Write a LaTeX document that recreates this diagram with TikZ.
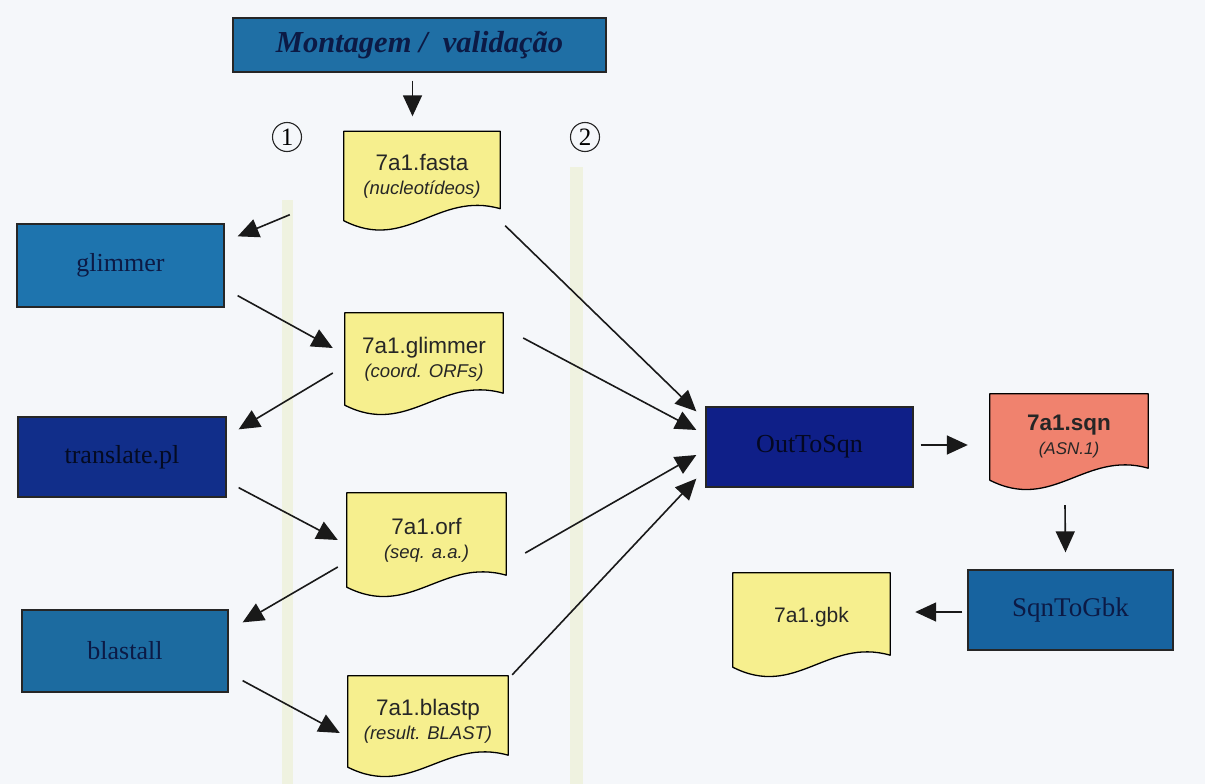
\documentclass[tikz,border=0pt]{standalone}
\usepackage{fontspec}
\setmainfont{Liberation Serif}
\newfontfamily\arialf{Liberation Sans}
\usetikzlibrary{arrows.meta,calc}
\pgfdeclarelayer{back}
\pgfdeclarelayer{background}
\pgfsetlayers{back,background,main}
\definecolor{bgc}{HTML}{F5F7FA}
\definecolor{stripec}{HTML}{EFF2E0}
\definecolor{docy}{HTML}{F6EF8E}
\definecolor{docs}{HTML}{F0826E}
\definecolor{bmont}{HTML}{1F6FA5}
\definecolor{bsteel}{HTML}{1E74AE}
\definecolor{bnavy}{HTML}{112E8A}
\definecolor{bdeep}{HTML}{0F1F88}
\definecolor{bmid}{HTML}{17639F}
\definecolor{txtd}{HTML}{0C1A45}
\newcommand{\subtxt}{\arialf\itshape\fontsize{18.5}{22}\selectfont}
\newcommand{\docshape}[3]{%
  \begin{pgfonlayer}{background}
  \filldraw[fill=#2, draw=black, line width=1.3pt, line join=round]
    (#1.north west) -- (#1.north east) -- ([yshift=12pt]#1.south east)
    .. controls +(-0.4*#3,-18) and +(0.4*#3,32) .. (#1.south west) -- cycle;
  \end{pgfonlayer}}
\tikzset{
  proc/.style={draw=black!85, line width=1.3pt, inner sep=0pt, text=txtd,
    font=\fontsize{26}{28}\selectfont},
  doc/.style={inner sep=0pt, align=center, text=black!85,
    font=\arialf\fontsize{22.5}{26}\selectfont},
  arr/.style={line width=1.6pt, draw=black!90, -{Triangle[length=21pt,width=19pt]}},
  num/.style={circle, draw=black!85, line width=1.1pt, minimum size=29pt, inner sep=0pt,
    font=\fontsize{25}{25}\selectfont}
}
\begin{document}
\begin{tikzpicture}[x=1pt,y=-1pt]
\begin{pgfonlayer}{back}
\fill[bgc] (0,0) rectangle (1205,784);
\fill[stripec] (282,200) rectangle (293,784);
\fill[stripec] (570,167) rectangle (583,784);
\end{pgfonlayer}
\useasboundingbox (0,0) rectangle (1205,784);

% process boxes
\node[proc, fill=bmont, minimum width=373pt, minimum height=54pt,
  font=\bfseries\itshape\fontsize{30.5}{32}\selectfont] (mont) at (419.5,45) {Montagem / \ validação};
\node[proc, fill=bsteel, minimum width=207pt, minimum height=83pt] (glim) at (120.5,265.5) {glimmer};
\node[proc, fill=bnavy, minimum width=208pt, minimum height=80pt, text=black!75!bnavy] (trans) at (122,457) {translate.pl};
\node[proc, fill=bsteel!92!black, minimum width=206pt, minimum height=82pt] (blast) at (125,651) {blastall};
\node[proc, fill=bdeep, minimum width=207pt, minimum height=80pt, text=black!75!bdeep] (out) at (809.5,447) {OutToSqn};
\node[proc, fill=bmid, minimum width=205pt, minimum height=80pt, font=\fontsize{27}{28}\selectfont] (sqg) at (1070.5,610) {SqnToGbk};

% document boxes
\node[doc, minimum width=156pt, minimum height=89pt] (fasta) at (422,176)
  {7a1.fasta\\[-2pt]{\subtxt (nucleotídeos)}};
\docshape{fasta}{docy}{156}
\node[doc, minimum width=158pt, minimum height=92pt] (fglim) at (424,359)
  {7a1.glimmer\\[-2pt]{\subtxt (coord. ORFs)}};
\docshape{fglim}{docy}{158}
\node[doc, minimum width=159pt, minimum height=94pt] (forf) at (426.5,540)
  {7a1.orf\\[-2pt]{\subtxt (seq. a.a.)}};
\docshape{forf}{docy}{159}
\node[doc, minimum width=160pt, minimum height=91pt] (fblastp) at (428,721.5)
  {7a1.blastp\\[-2pt]{\subtxt (result. BLAST)}};
\docshape{fblastp}{docy}{160}
\node[doc, minimum width=158pt, minimum height=86pt] (fsqn) at (1069,437)
  {\textbf{7a1.sqn}\\[-2pt]{\subtxt\fontsize{17}{20}\selectfont (ASN.1)}};
\docshape{fsqn}{docs}{158}
\node[doc, minimum width=157pt, minimum height=94pt, font=\arialf\fontsize{21}{24}\selectfont] (fgbk) at (811.5,620)
  {\raisebox{10pt}{7a1.gbk}};
\docshape{fgbk}{docy}{157}

% numbers
\node[num] (n1) at (287,137) {1};
\node[num] (n2) at (585,137) {2};

% connectors
\draw[arr] ([shift={(-7,8)}]mont.south) -- ([shift={(-7,-15)}]mont.south |- fasta.north);
\draw[arr] ([shift={(-54,-6)}]fasta.south west) -- ([shift={(13,13)}]glim.north east);
\draw[arr] ([shift={(13,-12)}]glim.south east) -- ([shift={(-12,-11)}]fglim.west);
\draw[arr] ([shift={(-12,14)}]fglim.west) -- ([shift={(12,13)}]trans.north east);
\draw[arr] ([shift={(12,-10)}]trans.south east) -- ([shift={(-9,0)}]forf.west);
\draw[arr] ([shift={(-9,27)}]forf.west) -- ([shift={(14,13)}]blast.north east);
\draw[arr] ([shift={(14,-12)}]blast.south east) -- ([shift={(-8,11.5)}]fblastp.west);
\draw[arr] ([shift={(5,5)}]fasta.south east) -- ([shift={(-9,5)}]out.north west);
\draw[arr] ([shift={(20,-21)}]fglim.east) -- ([shift={(-9,-17)}]out.west);
\draw[arr] ([shift={(19,13)}]forf.east) -- ([shift={(-9,8)}]out.west);
\draw[arr] ([shift={(4,-1)}]fblastp.north east) -- ([shift={(-9,-9)}]out.south west);
\draw[arr] ([shift={(7,-2)}]out.east) -- ([shift={(-22,8)}]fsqn.west);
\draw[arr] ([shift={(-4,25)}]fsqn.south) -- ([shift={(-5,-17)}]sqg.north);
\draw[arr] ([shift={(-5,2)}]sqg.west) -- ([shift={(25,-8)}]fgbk.east);
\end{tikzpicture}
\end{document}
